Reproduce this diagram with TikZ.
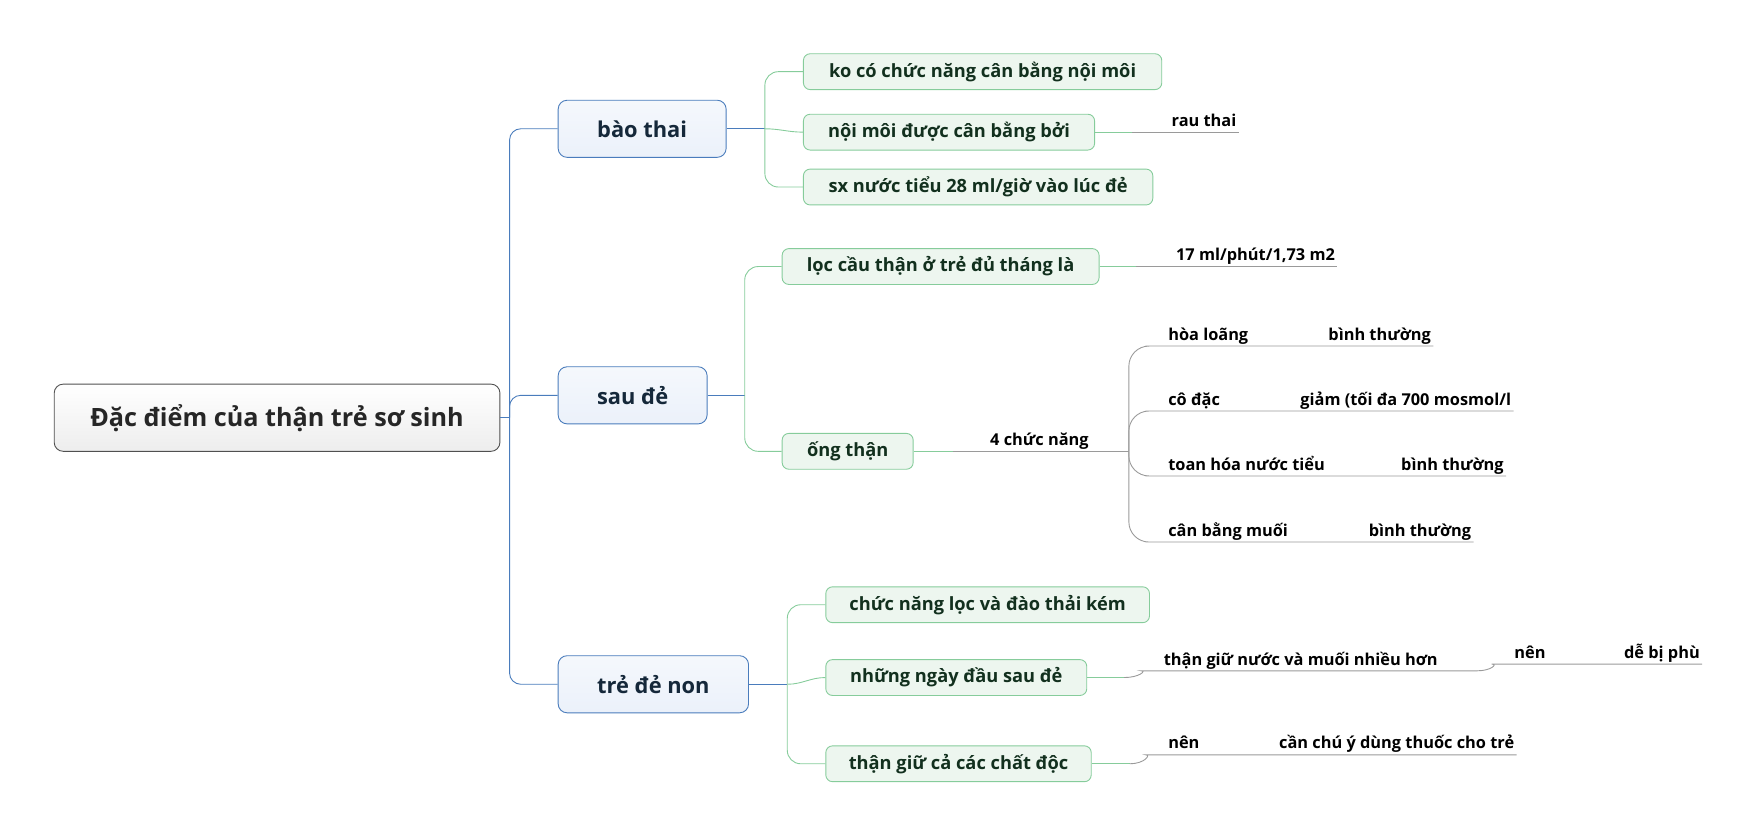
\documentclass[tikz,border=0pt]{standalone}
\usepackage{fontspec}
\setmainfont{Open Sans}
\usetikzlibrary{positioning}
\definecolor{rootline}{HTML}{505050}
\definecolor{rootfill}{HTML}{EDEDED}
\definecolor{mainline}{HTML}{4A7CBC}
\definecolor{mainfill}{HTML}{EBF1FA}
\definecolor{subline}{HTML}{86CC9B}
\definecolor{subfill}{HTML}{EDF6EF}
\definecolor{leafline}{HTML}{9A9A9A}
\definecolor{maintext}{HTML}{15283A}
\definecolor{subtext}{HTML}{12301E}

\tikzset{
  rootbox/.style={draw=rootline, top color=white, bottom color=rootfill, rounded corners=8pt, line width=0.8pt, minimum height=60pt, minimum width=398pt, text=black!85, font=\bfseries\fontsize{22.5}{27}\selectfont},
  mainbox/.style={draw=mainline, top color=white!50!mainfill, bottom color=mainfill, rounded corners=8pt, line width=0.8pt, minimum height=51pt, anchor=west, text=maintext, font=\bfseries\fontsize{19.5}{23}\selectfont},
  subbox/.style={draw=subline, fill=subfill, rounded corners=6pt, line width=0.8pt, minimum height=32pt, anchor=west, text=subtext, font=\bfseries\fontsize{16.3}{19}\selectfont},
  leaf/.style={anchor=south west, inner xsep=2pt, inner ysep=1pt, text depth=4pt, font=\bfseries\fontsize{14.6}{17}\selectfont},
  bline/.style={draw=mainline, line width=0.8pt, rounded corners=10pt},
  gline/.style={draw=subline, line width=0.8pt, rounded corners=12pt},
  lline/.style={draw=leafline, line width=0.8pt, rounded corners=18pt},
}

\begin{document}
\begin{tikzpicture}[x=1pt,y=-1pt]
\useasboundingbox (0,0) rectangle (1568,745.6);

% root and main topics
\node[rootbox, anchor=west] (root) at (48,373) {Đặc điểm của thận trẻ sơ sinh};
\node[mainbox, minimum width=150pt] (bao) at (498,115) {bào thai};
\node[mainbox, minimum width=133pt] (sau) at (498,353) {sau đẻ};
\node[mainbox, minimum width=170pt] (non) at (498,611) {trẻ đẻ non};

\coordinate (rfork) at (455,373);
\draw[bline] (root.east) -- (rfork);
\draw[bline] (rfork) |- (bao.west);
\draw[bline] (rfork) |- (sau.west);
\draw[bline] (rfork) |- (non.west);

% bao thai
\node[subbox, minimum width=320pt] (b1) at (717,64) {ko có chức năng cân bằng nội môi};
\node[subbox, minimum width=260pt] (b2) at (717,118) {nội môi được cân bằng bởi};
\node[subbox, minimum width=312pt] (b3) at (717,167) {sx nước tiểu 28 ml/giờ vào lúc đẻ};
\coordinate (bfork) at (683,115);
\draw[bline] (bao.east) -- (bfork);
\draw[gline] (bfork) |- (b1.west);
\draw[gline] (bfork) |- (b3.west);
\draw[gline] (bfork) to[out=0,in=180] (b2.west);

\node[leaf] (rau) at (1044,118) {rau thai};
\draw[gline] (b2.east) -- ++(33,0) coordinate (b2x);
\draw[lline] (b2x) -- (rau.south west) -- (rau.south east);

% sau de
\node[subbox, minimum width=283pt] (s1) at (698,238) {lọc cầu thận ở trẻ đủ tháng là};
\node[subbox, minimum width=117pt] (s2) at (698,403) {ống thận};
\coordinate (sfork) at (665,353);
\draw[bline] (sau.east) -- (sfork);
\draw[gline] (sfork) |- (s1.west);
\draw[gline] (sfork) |- (s2.west);

\node[leaf] (loc) at (1048,238) {17 ml/phút/1,73 m2};
\draw[gline] (s1.east) -- ++(33,0) coordinate (s1x);
\draw[lline] (s1x) -- (loc.south west) -- (loc.south east);

\node[leaf] (bon) at (882,403) {4 chức năng};
\draw[gline] (s2.east) -- ++(35,0) coordinate (s2x);
\draw[lline] (s2x) -- (bon.south west) -- (bon.south east) -- (1008,403) coordinate (ofork);

% 4 chuc nang
\node[leaf] (hoa) at (1041,309) {hòa loãng};
\node[leaf] (hoav) at (1184,309) {bình thường};
\node[leaf] (co) at (1041,367) {cô đặc};
\node[leaf] (cov) at (1159,367) {giảm (tối đa 700 mosmol/l};
\node[leaf] (toan) at (1041,425) {toan hóa nước tiểu};
\node[leaf] (toanv) at (1249,425) {bình thường};
\node[leaf] (muoi) at (1041,484) {cân bằng muối};
\node[leaf] (muoiv) at (1220,484) {bình thường};
\draw[lline] (ofork) |- (hoa.south west) -- (hoav.south west) -- (hoav.south east);
\draw[lline] (ofork) |- (co.south west) -- (cov.south west) -- (cov.south east);
\draw[lline] (ofork) |- (toan.south west) -- (toanv.south west) -- (toanv.south east);
\draw[lline] (ofork) |- (muoi.south west) -- (muoiv.south west) -- (muoiv.south east);

% tre de non
\node[subbox, minimum width=289pt] (n1) at (737,540) {chức năng lọc và đào thải kém};
\node[subbox, minimum width=233pt] (n2) at (737,605) {những ngày đầu sau đẻ};
\node[subbox, minimum width=237pt] (n3) at (737,682) {thận giữ cả các chất độc};
\coordinate (nfork) at (703,611);
\draw[bline] (non.east) -- (nfork);
\draw[gline] (nfork) |- (n1.west);
\draw[gline] (nfork) |- (n3.west);
\draw[gline] (nfork) to[out=0,in=180] (n2.west);

\node[leaf] (giu) at (1037,599) {thận giữ nước và muối nhiều hơn};
\node[leaf] (nen) at (1350,593) {nên};
\node[leaf] (phu) at (1448,593) {dễ bị phù};
\draw[gline] (n2.east) -- ++(33,0) coordinate (n2x);
\draw[lline] (n2x) to[out=0,in=180] (giu.south west) -- (giu.south east) -- ++(33,0) coordinate (giux);
\draw[lline] (giux) to[out=0,in=180] (nen.south west) -- (phu.south west) -- (phu.south east);

\node[leaf] (nen2) at (1041,674) {nên};
\node[leaf] (thuoc) at (1140,674) {cần chú ý dùng thuốc cho trẻ};
\draw[gline] (n3.east) -- ++(34,0) coordinate (n3x);
\draw[lline] (n3x) to[out=0,in=180] (nen2.south west) -- (thuoc.south west) -- (thuoc.south east);
\end{tikzpicture}
\end{document}
